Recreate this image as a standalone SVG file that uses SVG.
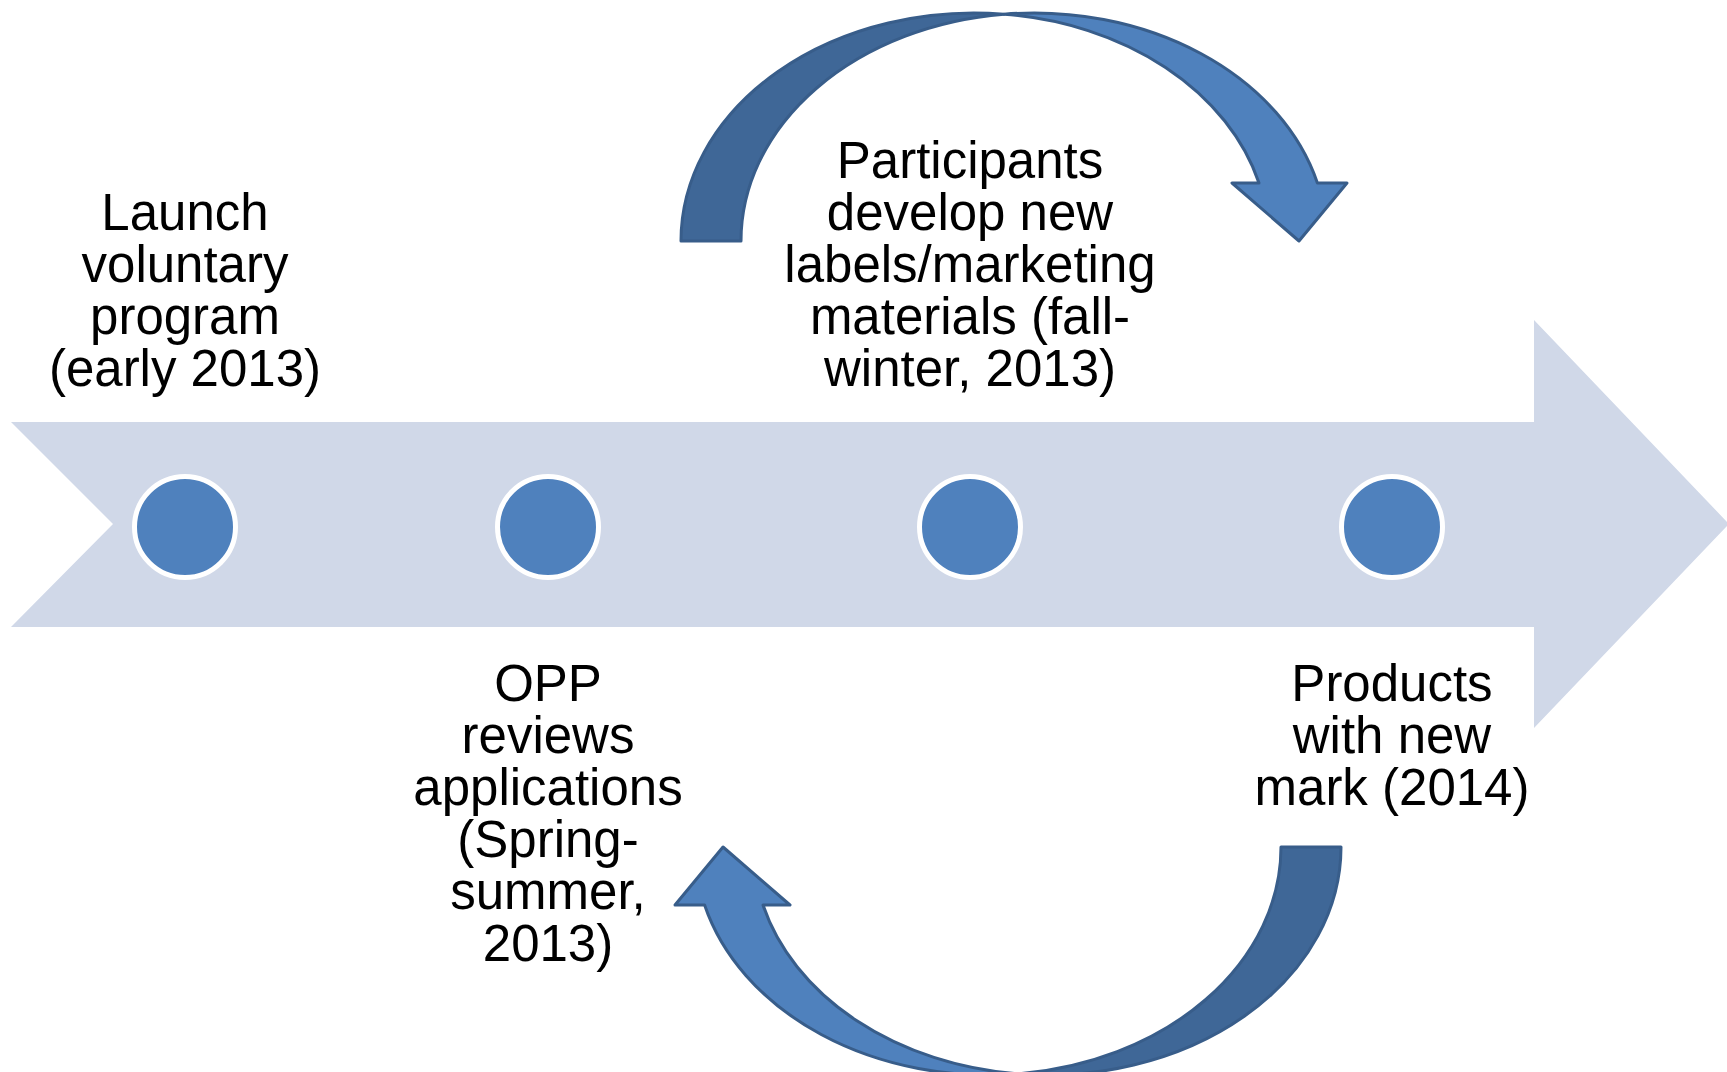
<svg xmlns="http://www.w3.org/2000/svg" width="1727" height="1072" viewBox="0 0 1727 1072">
  <defs>
    <style>
      .band { fill: #D0D8E8; }
      .dot { fill: #4F81BD; stroke: #FFFFFF; stroke-width: 5; }
      .label { font-family: "Liberation Sans", Arial, sans-serif; font-size: 51px; fill: #000000; text-anchor: middle; }
      .arc-back { fill: #3F6797; stroke: #385D8A; stroke-width: 3; stroke-linejoin: round; }
      .arc-front { fill: #4F81BD; stroke: #385D8A; stroke-width: 3; stroke-linejoin: round; }
    </style>
    <!-- curved arrow: back band from the stem, front band ending in the head -->
    <g id="curved-arrow">
      <path class="arc-back" d="M681,241 A293,228 0 0 1 1004,14.2 A293,228 0 0 0 741,241 Z"/>
      <path class="arc-front" d="M1004,14.2 A293,228 0 0 1 1317.4,183 L1347,183 L1299,241 L1232,183 L1259,183 A293,228 0 0 0 1004,14.2 Z"/>
    </g>
  </defs>

  <rect width="1727" height="1072" fill="#FFFFFF"/>

  <!-- timeline band -->
  <g id="timeline">
    <polygon class="band" points="11,422 1534,422 1534,320 1729,524 1534,728 1534,627 11,627 113,524"/>
  </g>

  <!-- connectors -->
  <g id="connectors">
    <use href="#curved-arrow"/>
    <use href="#curved-arrow" transform="rotate(180 1011 544)"/>
  </g>

  <g id="step-launch">
    <circle class="dot" cx="185" cy="527" r="50.5"/>
    <text class="label"><tspan x="185" y="230">Launch</tspan><tspan x="185" y="282">voluntary</tspan><tspan x="185" y="334">program</tspan><tspan x="185" y="386">(early 2013)</tspan></text>
  </g>

  <g id="step-review">
    <circle class="dot" cx="548" cy="527" r="50.5"/>
    <text class="label"><tspan x="548" y="701">OPP</tspan><tspan x="548" y="753">reviews</tspan><tspan x="548" y="805">applications</tspan><tspan x="548" y="857">(Spring-</tspan><tspan x="548" y="909">summer,</tspan><tspan x="548" y="961">2013)</tspan></text>
  </g>

  <g id="step-develop">
    <circle class="dot" cx="970" cy="527" r="50.5"/>
    <text class="label"><tspan x="970" y="178">Participants</tspan><tspan x="970" y="230">develop new</tspan><tspan x="970" y="282">labels/marketing</tspan><tspan x="970" y="334">materials (fall-</tspan><tspan x="970" y="386">winter, 2013)</tspan></text>
  </g>

  <g id="step-products">
    <circle class="dot" cx="1392" cy="527" r="50.5"/>
    <text class="label"><tspan x="1392" y="701">Products</tspan><tspan x="1392" y="753">with new</tspan><tspan x="1392" y="805">mark (2014)</tspan></text>
  </g>
</svg>
